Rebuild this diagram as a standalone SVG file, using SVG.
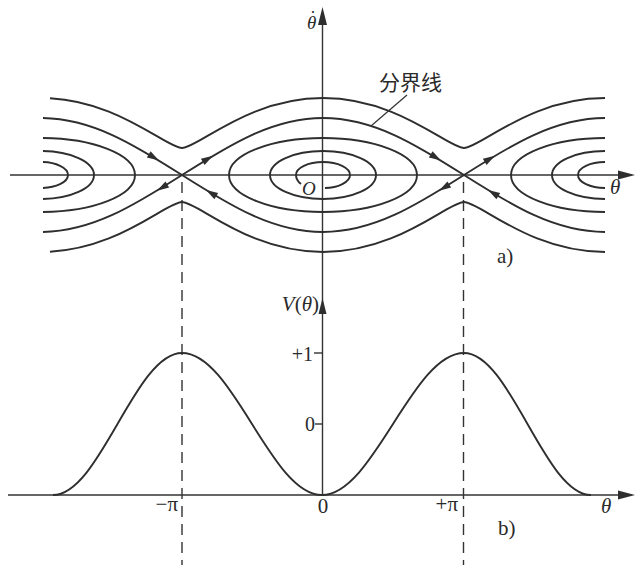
<svg xmlns="http://www.w3.org/2000/svg" xmlns:xlink="http://www.w3.org/1999/xlink" width="636" height="565" viewBox="0 0 636 565">
<style>
.ax{stroke:#333;stroke-width:1.4;fill:none}
.cv{stroke:#2e2e2e;stroke-width:1.9;fill:none}
.dash{stroke:#333;stroke-width:1.4;fill:none;stroke-dasharray:11 7}
.hd{fill:#2e2e2e;stroke:none}
.t{font-family:"Liberation Serif","Times New Roman",serif;fill:#2a2a2a}
.i{font-style:italic}
.cjk{font-family:"Noto Sans CJK SC","Noto Sans CJK JP",sans-serif;fill:#2a2a2a}
</style>
<defs>
<clipPath id="clipA"><rect x="43" y="0" width="562" height="300"/></clipPath>
<clipPath id="clipR"><rect x="50" y="0" width="555" height="300"/></clipPath>
<path id="ah" d="M0,0 L-12,-3.6 L-12,3.6 Z"/>
<g id="cell">
<ellipse cx="0" cy="175" rx="94" ry="37"/>
<ellipse cx="0" cy="175" rx="53" ry="24"/>
</g>
</defs>
<rect x="0" y="0" width="636" height="565" fill="#ffffff"/>

<g id="axes">
<line class="ax" x1="10" y1="175" x2="622" y2="175"/>
<path class="hd" d="M635,175 L618,170.5 L618,179.5 Z"/>
<line class="ax" x1="322.5" y1="20" x2="322.5" y2="496"/>
<path class="hd" d="M322.5,7 L318,25 L327,25 Z"/>
<path class="hd" d="M322.5,298 L318.5,314 L326.5,314 Z"/>
<line class="ax" x1="8" y1="495" x2="622" y2="495"/>
<path class="hd" d="M635,495 L618,490.5 L618,499.5 Z"/>
<line class="ax" x1="314" y1="353" x2="322.5" y2="353"/>
<line class="ax" x1="315" y1="424" x2="322.5" y2="424"/>
<line class="dash" x1="182" y1="182" x2="182" y2="565"/>
<line class="dash" x1="463.5" y1="182" x2="463.5" y2="565"/>
</g>

<g id="phase-curves">
<g clip-path="url(#clipA)" class="cv">
<use xlink:href="#cell" href="#cell" transform="translate(41,0)"/>
<use xlink:href="#cell" href="#cell" transform="translate(323,0)"/>
<use xlink:href="#cell" href="#cell" transform="translate(605,0)"/>
<ellipse cx="41" cy="175" rx="27" ry="13"/>
<ellipse cx="605" cy="175" rx="27" ry="13"/>
<path id="sep-top" d="M41,118 C91.7,118 134.9,145.1 182,175 C229.1,145.1 272.3,118 323,118 C373.7,118 416.9,145.1 464,175 C511.1,145.1 554.3,118 605,118"/>
<path id="sep-bottom" d="M41,232 C91.7,232 134.9,204.9 182,175 C229.1,204.9 272.3,232 323,232 C373.7,232 416.9,204.9 464,175 C511.1,204.9 554.3,232 605,232"/>
</g>
<g clip-path="url(#clipR)" class="cv">
<path id="run-top" d="M41,98 C116,98 166,148 182,148 C198,148 248,98 323,98 C398,98 448,148 464,148 C480,148 530,98 605,98"/>
<path id="run-bottom" d="M41,252 C116,252 166,202 182,202 C198,202 248,252 323,252 C398,252 448,202 464,202 C480,202 530,252 605,252"/>
</g>
<path class="cv" d="M301,184 C297,181 296,178 296,175 C296,168 308,162 323,162 C338,162 350,168 350,175 C350,182 338,188 325,188"/>
<line class="ax" x1="407" y1="95" x2="371" y2="126" style="stroke-width:1.2"/>
</g>

<g id="flow-arrows" class="hd">
<use xlink:href="#ah" href="#ah" transform="translate(159,160.5) rotate(31)"/>
<use xlink:href="#ah" href="#ah" transform="translate(213,155.7) rotate(-31)"/>
<use xlink:href="#ah" href="#ah" transform="translate(157,190.7) rotate(149)"/>
<use xlink:href="#ah" href="#ah" transform="translate(206,190) rotate(-149)"/>
<use xlink:href="#ah" href="#ah" transform="translate(441,160.5) rotate(31)"/>
<use xlink:href="#ah" href="#ah" transform="translate(495,155.7) rotate(-31)"/>
<use xlink:href="#ah" href="#ah" transform="translate(439,190.7) rotate(149)"/>
<use xlink:href="#ah" href="#ah" transform="translate(488,190) rotate(-149)"/>
</g>

<g id="potential">
<path class="cv" d="M53,495 C99.9,495 135.1,353 182,353 C233.2,353 270.8,495 322,495 C373.6,495 412.4,353 464,353 C510.2,353 544.8,495 591,495"/>
</g>

<g id="labels">
<text class="t i" x="307" y="29" font-size="19">θ<tspan dx="-6.5" dy="-5" font-style="normal">˙</tspan></text>
<text class="cjk" x="379" y="90" font-size="21">分界线</text>
<text class="t i" x="302" y="195" font-size="19">O</text>
<text class="t i" x="610" y="194" font-size="21">θ</text>
<text class="t" x="497" y="263" font-size="21">a)</text>
<text class="t" x="319" y="311" font-size="21" text-anchor="end"><tspan class="i">V</tspan>(<tspan class="i">θ</tspan>)</text>
<text class="t" x="313" y="361" font-size="20" text-anchor="end">+1</text>
<text class="t" x="315" y="431" font-size="20" text-anchor="end">0</text>
<text class="t" x="178" y="511" font-size="21" text-anchor="end">−π</text>
<text class="t" x="323" y="513" font-size="21" text-anchor="middle">0</text>
<text class="t" x="458" y="511" font-size="21" text-anchor="end">+π</text>
<text class="t i" x="601" y="513" font-size="21">θ</text>
<text class="t" x="498" y="535" font-size="21">b)</text>
</g>
</svg>
